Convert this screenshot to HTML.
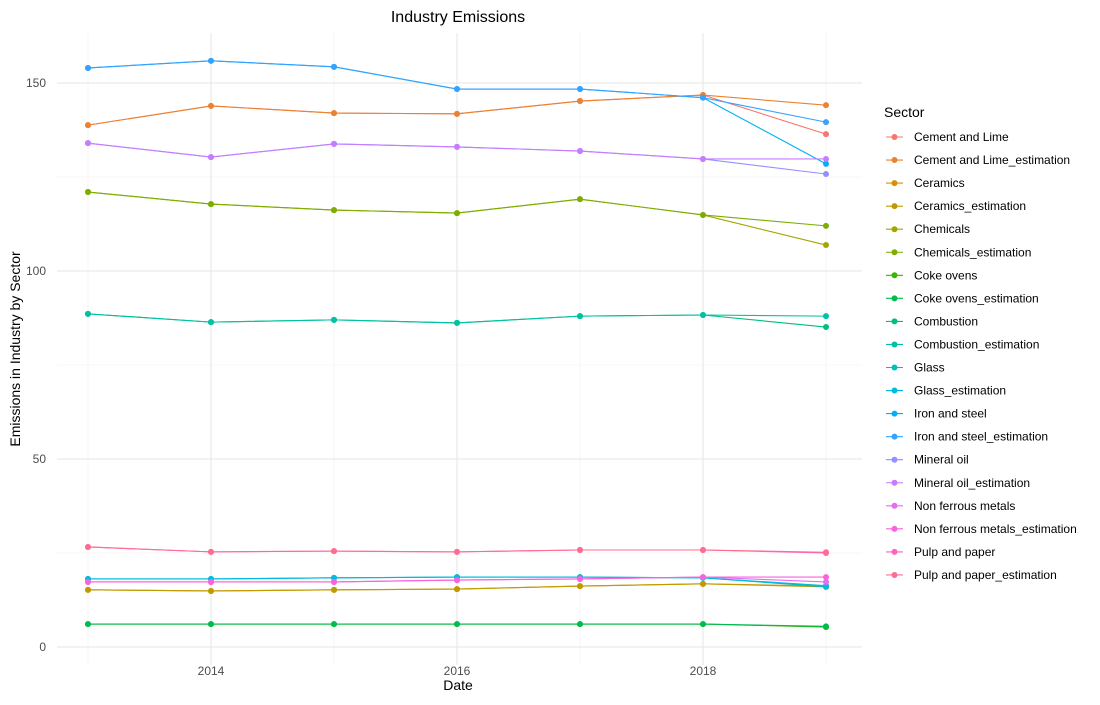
<!DOCTYPE html>
<html><head><meta charset="utf-8"><style>
body{margin:0;background:#fff;font-family:"Liberation Sans",Arial,sans-serif}
svg text{font-family:"Liberation Sans",Arial,sans-serif}
</style></head><body>
<svg id="chart" width="1100" height="700" xmlns="http://www.w3.org/2000/svg">
<g id="grid"></g>
<g id="series"></g>
<g id="axes"></g>
<g id="legend"></g>
<text x="458" y="22" text-anchor="middle" font-size="16" fill="#000">Industry Emissions</text>
<text x="458" y="690" text-anchor="middle" font-size="14" fill="#000">Date</text>
<text transform="translate(20,349) rotate(-90)" text-anchor="middle" font-size="14" fill="#000">Emissions in Industry by Sector</text>
</svg>
<script>
const years = [2013,2014,2015,2016,2017,2018,2019];
const seriesNames = ["Cement and Lime","Cement and Lime_estimation","Ceramics","Ceramics_estimation","Chemicals","Chemicals_estimation","Coke ovens","Coke ovens_estimation","Combustion","Combustion_estimation","Glass","Glass_estimation","Iron and steel","Iron and steel_estimation","Mineral oil","Mineral oil_estimation","Non ferrous metals","Non ferrous metals_estimation","Pulp and paper","Pulp and paper_estimation"];
const colors = ["#F8766D","#EA8331","#D89000","#C09B00","#A3A500","#7CAE00","#39B600","#00BB4E","#00BF7D","#00C1A3","#00BFC4","#00BAE0","#00B0F6","#35A2FF","#9590FF","#C77CFF","#E76BF3","#FA62DB","#FF62BC","#FF6C91"];
const cementLime = [138.8,143.9,142.0,141.8,145.2,146.8,136.4];
const cementLimeEst = [138.8,143.9,142.0,141.8,145.2,146.8,144.1];
const ceramics = [15.2,14.9,15.2,15.4,16.2,16.8,16.2];
const ceramicsEst = [15.2,14.9,15.2,15.4,16.2,16.8,16.0];
const chemicals = [121.0,117.8,116.2,115.4,119.1,114.9,106.9];
const chemicalsEst = [121.0,117.8,116.2,115.4,119.1,114.9,112.0];
const cokeOvens = [6.1,6.1,6.1,6.1,6.1,6.1,5.3];
const cokeOvensEst = [6.1,6.1,6.1,6.1,6.1,6.1,5.5];
const combustion = [88.6,86.4,87.0,86.2,88.0,88.3,85.1];
const combustionEst = [88.6,86.4,87.0,86.2,88.0,88.3,88.0];
const glass = [18.1,18.1,18.4,18.6,18.6,18.4,16.0];
const glassEst = [18.1,18.1,18.4,18.6,18.6,18.4,16.3];
const ironSteel = [154.0,155.9,154.3,148.4,148.4,146.1,128.5];
const ironSteelEst = [154.0,155.9,154.3,148.4,148.4,146.1,139.6];
const mineralOil = [134.0,130.3,133.8,133.0,131.9,129.8,125.8];
const mineralOilEst = [134.0,130.3,133.8,133.0,131.9,129.8,129.8];
const nonFerrous = [17.3,17.3,17.3,17.8,18.1,18.6,17.3];
const nonFerrousEst = [17.3,17.3,17.3,17.8,18.1,18.6,18.6];
const pulpPaper = [26.6,25.3,25.5,25.3,25.8,25.8,25.0];
const pulpPaperEst = [26.6,25.3,25.5,25.3,25.8,25.8,25.2];
const yTicks = [0,50,100,150];
const yMinor = [25,75,125];
const xTicks = [2014,2016,2018];
const xMinor = [2013,2015,2017,2019];

const allSeries = [cementLime,cementLimeEst,ceramics,ceramicsEst,chemicals,chemicalsEst,cokeOvens,cokeOvensEst,combustion,combustionEst,glass,glassEst,ironSteel,ironSteelEst,mineralOil,mineralOilEst,nonFerrous,nonFerrousEst,pulpPaper,pulpPaperEst];
const NS="http://www.w3.org/2000/svg";
const X0=57,X1=862,Y0=33,Y1=665;
function xs(v){return 88+(v-2013)*123;}
function ys(v){return 647-v*3.76;}
function mk(tag,attrs,parent){const e=document.createElementNS(NS,tag);for(const k in attrs)e.setAttribute(k,attrs[k]);parent.appendChild(e);return e;}
const grid=document.getElementById('grid'),axes=document.getElementById('axes'),ser=document.getElementById('series'),leg=document.getElementById('legend');
yMinor.forEach(v=>{const l=mk('line',{x1:X0,x2:X1,y1:ys(v),y2:ys(v),stroke:'#f0f0f0','stroke-width':0.6},grid);

});
xMinor.forEach(v=>{const l=mk('line',{x1:xs(v),x2:xs(v),y1:Y0,y2:Y1,stroke:'#f0f0f0','stroke-width':0.6},grid);

});
yTicks.forEach(v=>{const l=mk('line',{x1:X0,x2:X1,y1:ys(v),y2:ys(v),stroke:'#e6e6e6','stroke-width':1.1},grid);


const t=mk('text',{x:46,y:ys(v)+4,'text-anchor':'end','font-size':12,fill:'#4d4d4d'},axes);t.textContent=v;

});
xTicks.forEach(v=>{const l=mk('line',{x1:xs(v),x2:xs(v),y1:Y0,y2:Y1,stroke:'#e6e6e6','stroke-width':1.1},grid);


const t=mk('text',{x:xs(v),y:675,'text-anchor':'middle','font-size':12,fill:'#4d4d4d'},axes);t.textContent=v;

});
allSeries.forEach((d,i)=>{
 const g=mk('g',{},ser);
 
 
 const p=mk('polyline',{points:d.map((v,j)=>xs(years[j])+','+ys(v)).join(' '),fill:'none',stroke:colors[i],'stroke-width':1.1},g);
 
 
 d.forEach((v,j)=>{const c=mk('circle',{cx:xs(years[j]),cy:ys(v),r:3,fill:colors[i]},g);
 
 });
});
const lt=mk('text',{x:884,y:117,'font-size':14,fill:'#000'},leg);lt.textContent='Sector';


seriesNames.forEach((n,i)=>{const y=137+i*23.05;
 const g=mk('g',{},leg);
 
 
 mk('line',{x1:886,x2:903,y1:y,y2:y,stroke:colors[i],'stroke-width':1.1},g);
 mk('circle',{cx:894.5,cy:y,r:3,fill:colors[i]},g);
 const t=mk('text',{x:914,y:y+4,'font-size':12,fill:'#000'},g);t.textContent=n;});
</script>
</body></html>
